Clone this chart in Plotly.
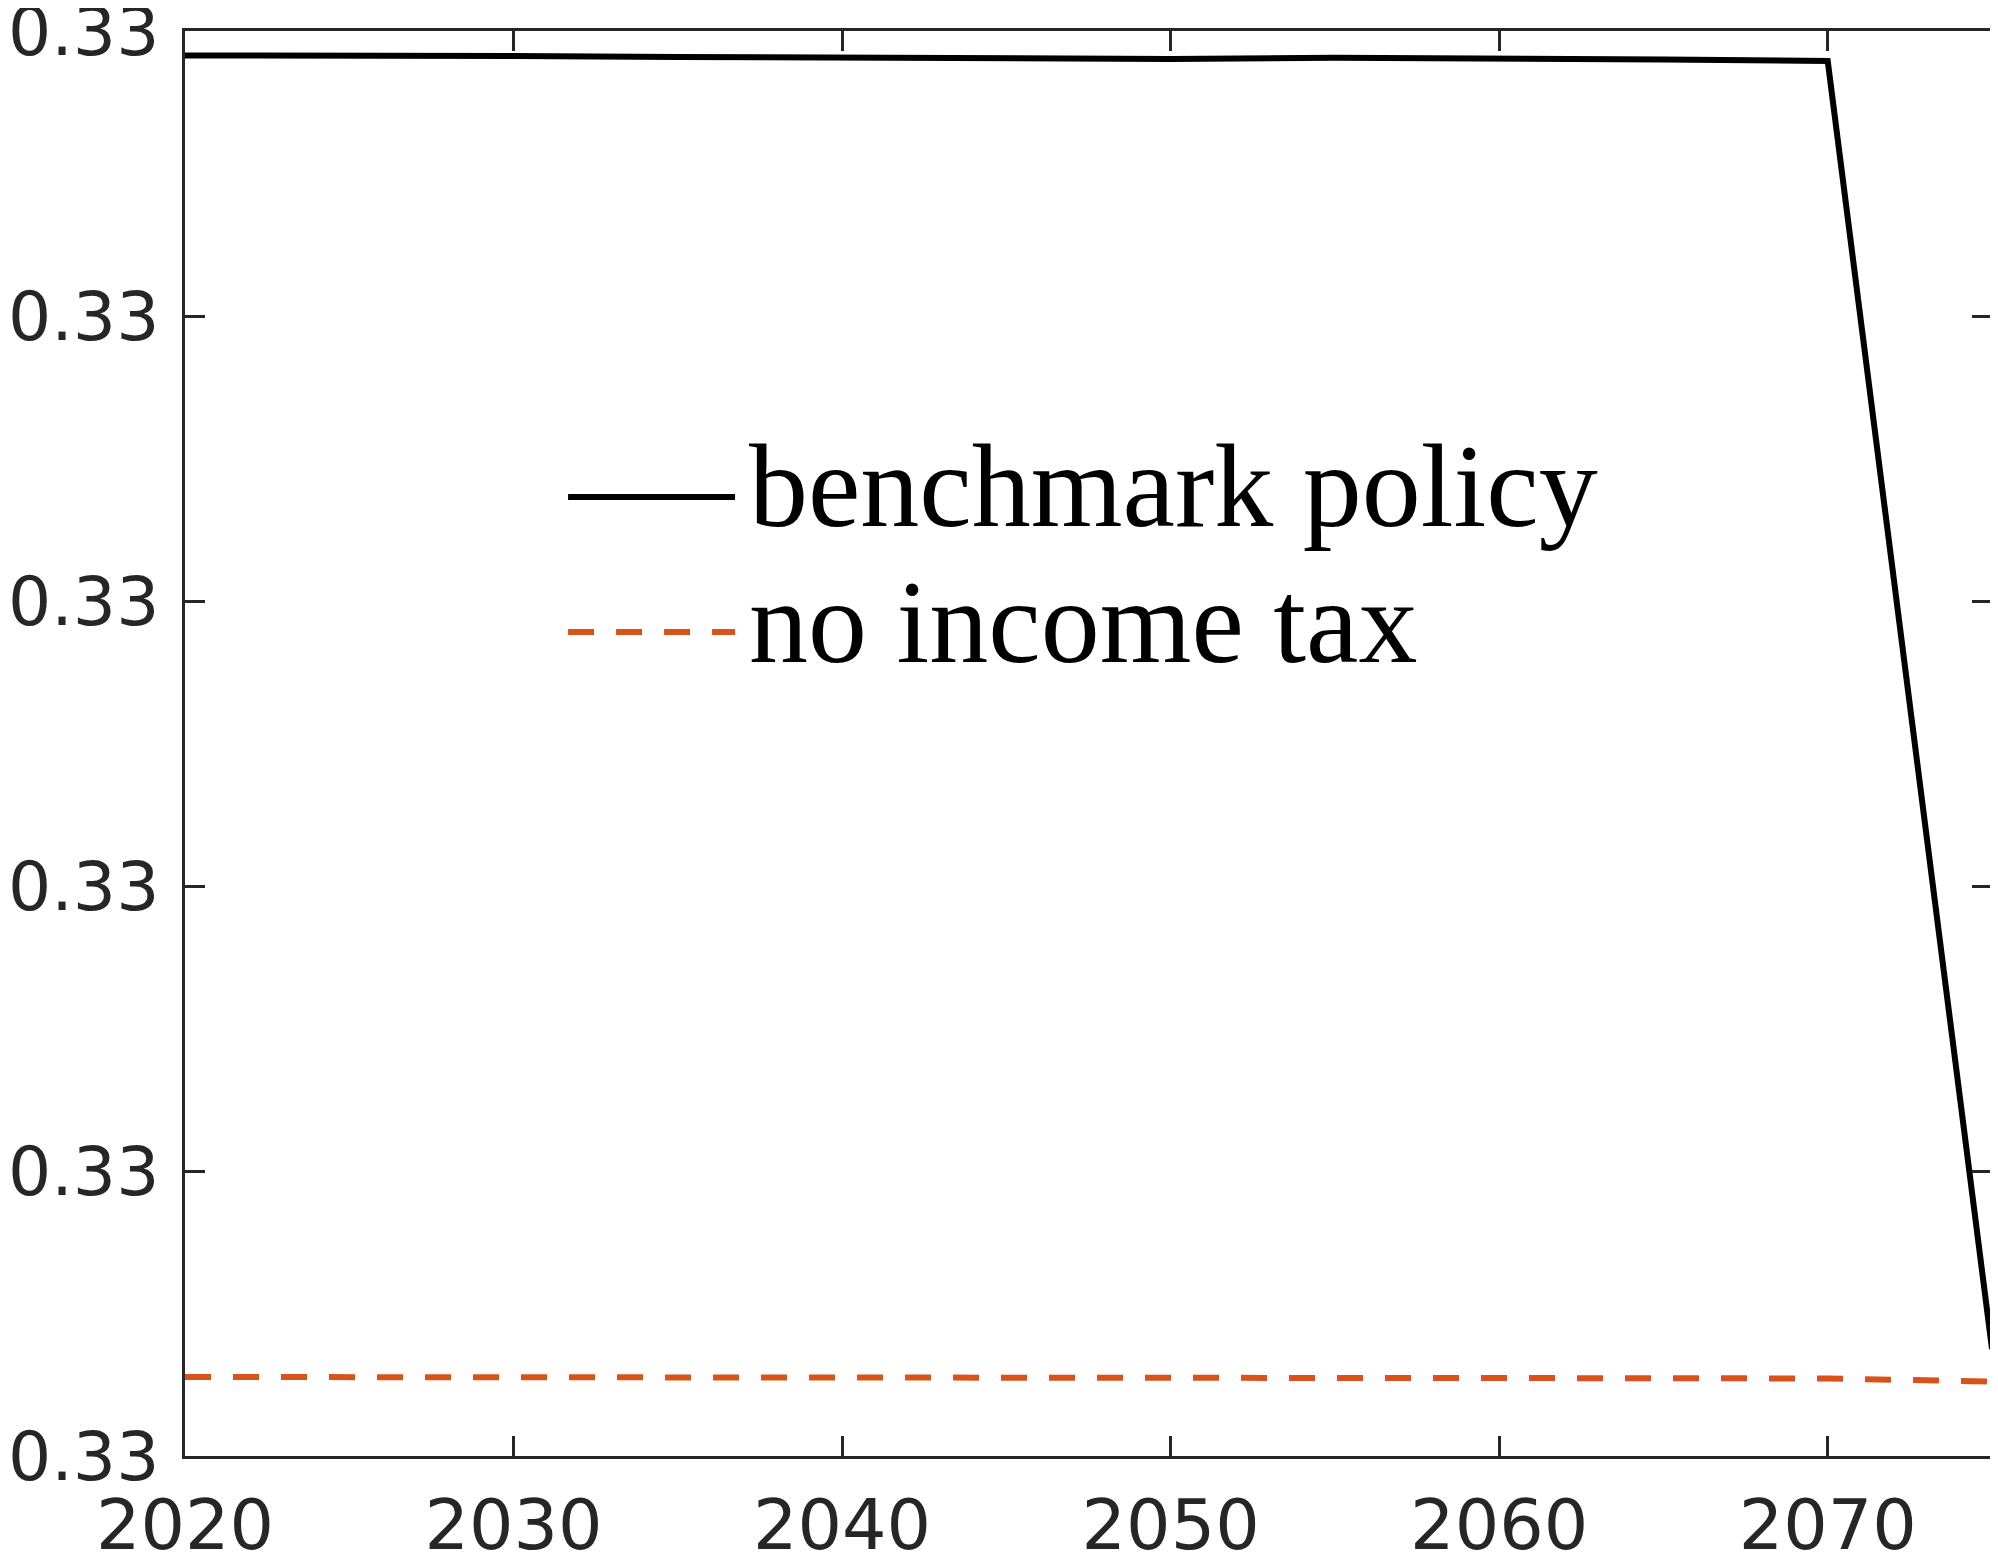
import plotly.graph_objects as go

# years on the x axis, one point every 5 years
years = [2020, 2025, 2030, 2035, 2040, 2045, 2050, 2055, 2060, 2065, 2070, 2075]

# benchmark policy (black, solid)
benchmark = [0.33009140, 0.33009147, 0.33009123, 0.33009088, 0.33009053, 0.33009018,
             0.33009018, 0.33009060, 0.33009042, 0.33009000, 0.33008947, 0.32963754]

# no income tax (orange, dashed)
no_tax = [0.32962772, 0.32962772, 0.32962772, 0.32962772, 0.32962761, 0.32962751,
          0.32962737, 0.32962737, 0.32962737, 0.32962730, 0.32962719, 0.32962614]

x_ticks = [2020, 2030, 2040, 2050, 2060, 2070]
y_ticks = [0.3296, 0.3297, 0.3298, 0.3299, 0.3300, 0.3301]

series_names = ["benchmark policy", "no income tax"]
series_colors = ["#000000", "#D95319"]

AXIS_COL = "#262626"
DASH = "26px,22px"

fig = go.Figure()

fig.add_trace(go.Scatter(
    x=years, y=benchmark, mode="lines", name=series_names[0],
    line=dict(color=series_colors[0], width=6), showlegend=False,
))
fig.add_trace(go.Scatter(
    x=years, y=no_tax, mode="lines", name=series_names[1],
    line=dict(color=series_colors[1], width=6, dash=DASH), showlegend=False,
))

axis_common = dict(
    showline=True, linecolor=AXIS_COL, linewidth=3, mirror="ticks",
    ticks="inside", ticklen=20, tickwidth=3, tickcolor=AXIS_COL,
    showgrid=False, zeroline=False, automargin=False, ticklabeloverflow="allow",
)

fig.update_xaxes(range=[2020, 2075], tickvals=x_ticks, ticklabelstandoff=6,
                 tickfont=dict(family="DejaVu Sans", size=70, color=AXIS_COL), **axis_common)
# slightly smaller y labels so the leading 0 is not clipped at the page edge
fig.update_yaxes(range=[y_ticks[0], y_ticks[-1]], tickvals=y_ticks, tickformat=".2f",
                 ticklabelstandoff=9,
                 tickfont=dict(family="DejaVu Sans", size=68, color=AXIS_COL), **axis_common)

# legend drawn by hand so the line samples are as long as in the original
leg_x0, leg_x1, leg_tx = 0.212, 0.3044, 0.311
leg_rows = [0.673, 0.5782]
dashes = ["solid", DASH]
for name, col, dsh, yy in zip(series_names, series_colors, dashes, leg_rows):
    fig.add_shape(type="line", xref="paper", yref="paper",
                  x0=leg_x0, x1=leg_x1, y0=yy, y1=yy,
                  line=dict(color=col, width=6, dash=dsh))
    fig.add_annotation(xref="paper", yref="paper", x=leg_tx, y=yy, yshift=10,
                       xanchor="left", yanchor="middle", showarrow=False,
                       text=name, font=dict(family="Liberation Serif", size=118, color="#000000"))

# the page body has an 8px margin, so the figure is a little smaller than the window
fig.update_layout(
    width=1990, height=1546, autosize=False,
    margin=dict(l=177, r=6, t=23, b=98),
    paper_bgcolor="white", plot_bgcolor="white",
)

fig.write_html("out.html")
